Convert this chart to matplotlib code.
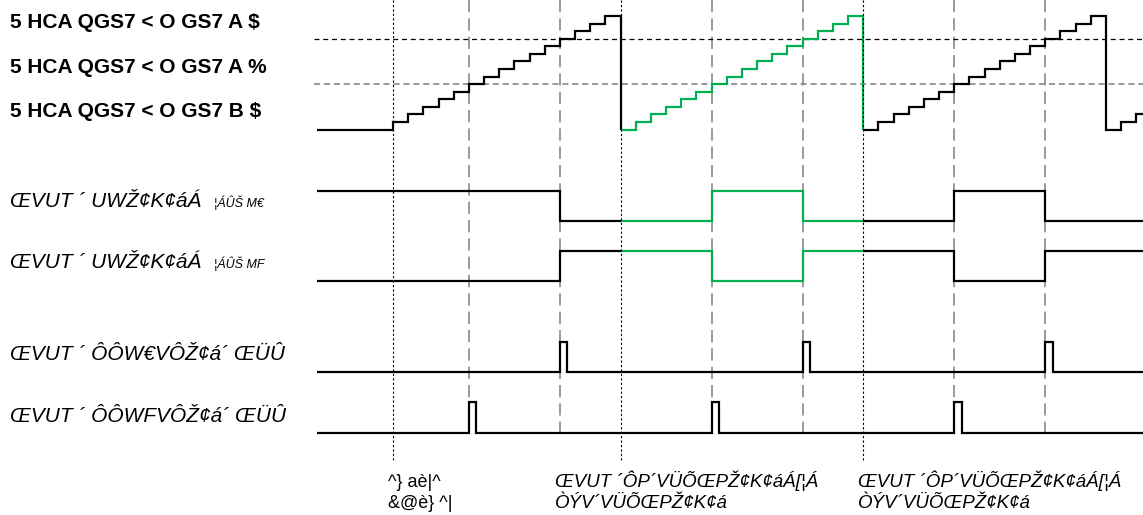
import numpy as np
import matplotlib
matplotlib.use("Agg")
import matplotlib.pyplot as plt
from matplotlib.transforms import blended_transform_factory

# ---- timing data (time in counter clock ticks) ----
t_begin, t_end = -5, 49.6
counter_edges = list(range(-5, 50)) + [49.6]
counter_values = [0, 0, 0, 0, 0,
                  1, 2, 3, 4, 5, 6, 7, 8, 9, 10, 11, 12, 13, 14, 15,
                  0, 1, 2, 3, 4, 5, 6, 7, 8, 9, 10, 11, 12, 13, 14, 15,
                  0, 1, 2, 3, 4, 5, 6, 7, 8, 9, 10, 11, 12, 13, 14, 15,
                  0, 1, 2]
compare_levels = [12, 6]
highlight_span = [15, 31]
start_tick = [0]
reload_ticks = [15, 31]
match_ticks = [5, 11, 21, 27, 37, 43]

out_a_edges = [-5, 11, 21, 27, 37, 43, 49.6]
out_a_values = [1, 0, 1, 0, 1, 0]
out_b_edges = [-5, 11, 21, 27, 37, 43, 49.6]
out_b_values = [0, 1, 0, 1, 0, 1]
irq_a_edges = [-5, 11, 11.5, 27, 27.5, 43, 43.5, 49.6]
irq_a_values = [0, 1, 0, 1, 0, 1, 0]
irq_b_edges = [-5, 5, 5.5, 21, 21.5, 37, 37.5, 49.6]
irq_b_values = [0, 1, 0, 1, 0, 1, 0]

counter_labels = ["5 HCA QGS7 < O GS7 A $", "5 HCA QGS7 < O GS7 A %", "5 HCA QGS7 < O GS7 B $"]
out_labels = [("ŒVUT ´ UWŽ¢K¢áÁ", "¦ÁÛŠ M€"), ("ŒVUT ´ UWŽ¢K¢áÁ", "¦ÁÛŠ MF")]
irq_labels = ["ŒVUT ´ ÔÔW€VÔŽ¢á´ ŒÜÛ", "ŒVUT ´ ÔÔWFVÔŽ¢á´ ŒÜÛ"]
start_note = ["^} aè|^", "&@è} ^|"]
reload_note = ["ŒVUT ´ÔP´VÜÕŒPŽ¢K¢áÁ[¦Á", "ÒÝV´VÜÕŒPŽ¢K¢á"]

# ---- layout ----
W, H = 1143, 515
PX_PER_TICK = 91 / 6
X0_PX = 393
BLACK = "#000000"
GREEN = "#00B050"
GREY = "#7F7F7F"

fig = plt.figure(figsize=(W / 100, H / 100), dpi=100)
ax = fig.add_axes([0, 0, 1, 1])
ax.axis("off")
ax.set_xlim(-X0_PX / PX_PER_TICK, (W - X0_PX) / PX_PER_TICK)
ax.set_ylim(H, 0)
xfrac = blended_transform_factory(ax.transAxes, ax.transData)


def step_pieces(edges, values, splits):
    edges = list(edges)
    values = list(values)
    for s in splits:
        if edges[0] < s < edges[-1] and s not in edges:
            i = int(np.searchsorted(edges, s))
            edges.insert(i, s)
            values.insert(i, values[i - 1])
    xs, ys = [edges[0]], [values[0]]
    for i, v in enumerate(values):
        xs.append(edges[i + 1]); ys.append(v)
        if i + 1 < len(values):
            xs.append(edges[i + 1]); ys.append(values[i + 1])
    xs, ys = np.array(xs, float), np.array(ys, float)
    bounds = [edges[0]] + [s for s in splits if edges[0] < s < edges[-1]] + [edges[-1]]
    pieces = []
    for a, b in zip(bounds[:-1], bounds[1:]):
        ia = np.where(np.isclose(xs, a))[0][-1]
        ib = np.where(np.isclose(xs, b))[0][-1]
        pieces.append((xs[ia:ib + 1], ys[ia:ib + 1]))
    return pieces


def draw_trace(edges, values, base_y, amp, colors, splits=()):
    for (xs, ys), c in zip(step_pieces(edges, values, list(splits)), colors):
        ax.plot(xs, base_y - ys * amp, color=c, lw=1.6, solid_joinstyle="miter",
                solid_capstyle="butt", zorder=3)


# counter level -> vertical position
CNT_BASE, CNT_STEP = 129.5, 7.56

# vertical markers
for t in match_ticks:
    ax.plot([t, t], [0, 436], color=GREY, lw=1.1, dashes=(8, 4), zorder=1)
for t in start_tick + reload_ticks:
    ax.plot([t, t], [0, 462], color=BLACK, lw=0.8, dashes=(2, 2), zorder=4)

# compare thresholds
ax.plot([-5.2, t_end], [CNT_BASE - compare_levels[0] * CNT_STEP] * 2,
        color=BLACK, lw=0.9, dashes=(4, 3), zorder=1)
ax.plot([-5.2, t_end], [CNT_BASE - compare_levels[1] * CNT_STEP] * 2,
        color=GREY, lw=1.1, dashes=(4, 2.5), zorder=1)

tricolor = [BLACK, GREEN, BLACK]
draw_trace(counter_edges, counter_values, CNT_BASE, CNT_STEP, tricolor, highlight_span)
draw_trace(out_a_edges, out_a_values, 220.7, 30.2, tricolor, highlight_span)
draw_trace(out_b_edges, out_b_values, 281.3, 30.3, tricolor, highlight_span)
draw_trace(irq_a_edges, irq_a_values, 372.0, 30.3, [BLACK])
draw_trace(irq_b_edges, irq_b_values, 432.7, 31.0, [BLACK])

# labels
FONT = "Liberation Sans"
for y, s in zip([28.5, 73, 117], counter_labels):
    ax.text(10 / W, y, s, transform=xfrac, fontsize=15, fontweight="bold",
            family=FONT, va="baseline", ha="left")

for y, (main, sub) in zip([207, 268], out_labels):
    ax.text(10 / W, y, main, transform=xfrac, fontsize=15, style="italic",
            family=FONT, va="baseline", ha="left")
    ax.text(214 / W, y, sub, transform=xfrac, fontsize=9, style="italic",
            family=FONT, va="baseline", ha="left")

for y, s in zip([360, 421.5], irq_labels):
    ax.text(10 / W, y, s, transform=xfrac, fontsize=15, style="italic",
            family=FONT, va="baseline", ha="left")

for y, s in zip([487, 508], start_note):
    ax.text(388 / W, y, s, transform=xfrac, fontsize=13, family=FONT,
            va="baseline", ha="left")
for x0 in [555, 858]:
    for y, s in zip([487, 508], reload_note):
        ax.text(x0 / W, y, s, transform=xfrac, fontsize=13.5, style="italic",
                family=FONT, va="baseline", ha="left")

fig.savefig("out.png", dpi=100)
